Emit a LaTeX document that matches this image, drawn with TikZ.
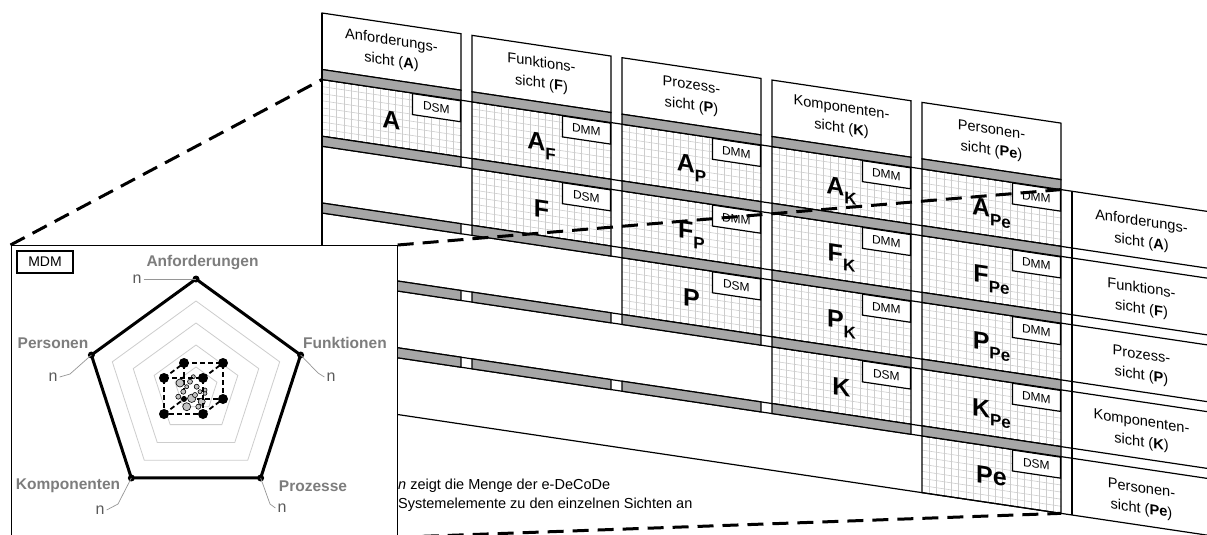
\documentclass[tikz,border=0pt]{standalone}
\usepackage{fontspec}
\setmainfont{Liberation Sans}
\definecolor{bandgray}{RGB}{166,166,166}
\definecolor{gridgray}{RGB}{205,205,205}
\definecolor{ringgray}{RGB}{205,205,205}
\definecolor{axisgray}{RGB}{125,125,125}
\definecolor{ngray}{RGB}{90,90,90}
\definecolor{leadgray}{RGB}{150,150,150}
\definecolor{molgray}{RGB}{195,195,195}
\tikzset{
  edge/.style={draw=black, line width=1.2pt},
  gridline/.style={draw=gridgray, line width=0.6pt},
  tagbox/.style={draw=black, line width=1.2pt, fill=white, minimum width=48pt, minimum height=21pt, inner sep=0pt, font=\fontsize{12}{12}\selectfont},
  biglab/.style={anchor=base, inner sep=0pt, font=\fontsize{25}{25}\selectfont\bfseries},
  viewtext/.style={align=center, inner sep=0pt, font=\fontsize{14.6}{20.5}\selectfont},
  zoomline/.style={line width=3pt, dash pattern=on 16pt off 9pt},
  axislabel/.style={inner sep=0pt, text=axisgray, font=\fontsize{15.5}{15.5}\selectfont\bfseries},
  ntext/.style={inner sep=0pt, text=ngray, font=\fontsize{16}{16}\selectfont},
  leader/.style={draw=leadgray, line width=0.7pt},
  ring/.style={draw=ringgray, line width=0.8pt},
  cubeedge/.style={line width=1.8pt, dash pattern=on 5pt off 3pt},
  atom/.style={fill=molgray, draw=black, line width=0.6pt},
}
% label with lowered index, e.g. A with index F
\newcommand\sublab[2]{#1\raisebox{-8pt}{\fontsize{17}{17}\selectfont #2}}
% one matrix cell: column, row, label, kind of matrix
\newcommand\matcell[4]{%
  \pgfmathsetmacro\cxl{322+150*#1}%
  \pgfmathsetmacro\cct{79.5+66.75*#2}%
  \foreach \k in {1,...,18} \draw[gridline] ({\cxl+\k*139/19},\cct) -- ++(0,56.75);
  \foreach \k in {1,...,7} \draw[gridline] (\cxl,{\cct+\k*56.75/8}) -- ++(139,0);
  \draw[edge] (\cxl,\cct) rectangle ++(139,56.75);
  \node[tagbox, anchor=north east] (tag#1#2) at ({\cxl+139},\cct) {#4};
  \node[biglab] (lab#1#2) at ({\cxl+69.5},{\cct+38.5}) {#3};
}
\begin{document}
\begin{tikzpicture}[x=1pt, y=-1pt]
\useasboundingbox (0,0) rectangle (1207,535);
\clip (0,0) rectangle (1207,535);
\fill[white] (0,0) rectangle (1207,535);

% ---------- oblique matrix plane ----------
\begin{scope}[cm={1,-0.149,0,1,(0pt,47.98pt)}, transform shape]
  % column headers
  \draw[edge, fill=white] (322,13) rectangle (461,69.5);
  \node[viewtext] (hA) at (391.5,41.25) {Anforderungs-\\sicht (\textbf{A})};
  \draw[edge, fill=white] (472,13) rectangle (611,69.5);
  \node[viewtext] (hF) at (541.5,41.25) {Funktions-\\sicht (\textbf{F})};
  \draw[edge, fill=white] (622,13) rectangle (761,69.5);
  \node[viewtext] (hP) at (691.5,41.25) {Prozess-\\sicht (\textbf{P})};
  \draw[edge, fill=white] (772,13) rectangle (911,69.5);
  \node[viewtext] (hK) at (841.5,41.25) {Komponenten-\\sicht (\textbf{K})};
  \draw[edge, fill=white] (922,13) rectangle (1061,69.5);
  \node[viewtext] (hPe) at (991.5,41.25) {Personen-\\sicht (\textbf{Pe})};

  % matrix cells
  \matcell{0}{0}{A}{DSM}
  \matcell{1}{0}{\sublab{A}{F}}{DMM}
  \matcell{1}{1}{F}{DSM}
  \matcell{2}{0}{\sublab{A}{P}}{DMM}
  \matcell{2}{1}{\sublab{F}{P}}{DMM}
  \matcell{2}{2}{P}{DSM}
  \matcell{3}{0}{\sublab{A}{K}}{DMM}
  \matcell{3}{1}{\sublab{F}{K}}{DMM}
  \matcell{3}{2}{\sublab{P}{K}}{DMM}
  \matcell{3}{3}{K}{DSM}
  \matcell{4}{0}{\sublab{A}{Pe}}{DMM}
  \matcell{4}{1}{\sublab{F}{Pe}}{DMM}
  \matcell{4}{2}{\sublab{P}{Pe}}{DMM}
  \matcell{4}{3}{\sublab{K}{Pe}}{DMM}
  \matcell{4}{4}{Pe}{DSM}

  % separator strips running through all columns
  \draw[edge] (322,79.5) -- (1215,79.5);
  \foreach \r in {1,...,4}{
    \pgfmathsetmacro\bt{69.5+66.75*\r}
    \draw[edge] (322,\bt) -- (1215,\bt) (322,\bt+10) -- (1215,\bt+10);
  }
  \draw[edge] (322,403.25) -- (1215,403.25);
  \foreach \r in {0,...,4}{
    \pgfmathsetmacro\bt{69.5+66.75*\r}
    \foreach \i in {0,...,4}
      \draw[edge, fill=bandgray] ({322+150*\i},\bt) rectangle ++(139,10);
  }
  \draw[edge] (322,13) -- (322,403.25);
  \draw[edge] (1072,79.5) -- (1072,403.25);

  % row labels on the right
  \node[viewtext] (rA) at (1141.5,110.4) {Anforderungs-\\sicht (\textbf{A})};
  \node[viewtext] (rF) at (1141.5,177.15) {Funktions-\\sicht (\textbf{F})};
  \node[viewtext] (rP) at (1141.5,243.9) {Prozess-\\sicht (\textbf{P})};
  \node[viewtext] (rK) at (1141.5,310.65) {Komponenten-\\sicht (\textbf{K})};
  \node[viewtext] (rPe) at (1141.5,377.4) {Personen-\\sicht (\textbf{Pe})};

  \coordinate (cellAnw) at (322,79.5);
  \coordinate (cellApeNE) at (1061,79.5);
  \coordinate (cellPeSE) at (1061,403.25);
\end{scope}

% note below the matrix
\node[anchor=north west, align=left, inner sep=0pt, font=\fontsize{14.5}{18.5}\selectfont] (note) at (398,479)
  {\textit{n} zeigt die Menge der e-DeCoDe\\Systemelemente zu den einzelnen Sichten an};

% ---------- MDM overview ----------
\node[draw=black, line width=1.2pt, fill=white, minimum width=386pt, minimum height=291pt, inner sep=0pt, anchor=north west] (mdm) at (10.5,245) {};
\draw[zoomline] (mdm.north west) -- (cellAnw);
\draw[zoomline] (mdm.north east) -- (cellApeNE);
\draw[zoomline] (mdm.south east) -- (cellPeSE);

\node[draw=black, line width=1.1pt, minimum width=56pt, minimum height=22pt, inner sep=0pt, font=\fontsize{14}{14}\selectfont] (mdmtag) at (45,262) {MDM};

\begin{scope}[shift={(196,389)}, y=1pt]
  \foreach \f in {0.2,0.4,0.6,0.8}
    \draw[ring] (90:{110*\f}) -- (18:{110*\f}) -- (-54:{110*\f}) -- (-126:{110*\f}) -- (162:{110*\f}) -- cycle;
  \coordinate (pA) at (90:110);
  \coordinate (pF) at (18:110);
  \coordinate (pP) at (-54:110);
  \coordinate (pK) at (-126:110);
  \coordinate (pPe) at (162:110);
\end{scope}
\draw[line width=3pt, line join=miter] (pA) -- (pF) -- (pP) -- (pK) -- (pPe) -- cycle;
\foreach \p in {pA,pF,pP,pK,pPe} \fill (\p) circle (3.5);

\node[axislabel] (lA) at (202.5,263) {Anforderungen};
\node[axislabel] (lF) at (345,343) {Funktionen};
\node[axislabel] (lP) at (313,486) {Prozesse};
\node[axislabel] (lK) at (68,486) {Komponenten};
\node[axislabel] (lPe) at (53,343) {Personen};

\node[ntext] (nA) at (137,279) {n};
\node[ntext] (nF) at (331,377) {n};
\node[ntext] (nP) at (282,508) {n};
\node[ntext] (nK) at (100,510) {n};
\node[ntext] (nPe) at (53,377) {n};
\draw[leader] ([xshift=2pt]nA.east) -- (pA);
\draw[leader] (pF) -- (318,373) -- ([xshift=-2pt]nF.west);
\draw[leader] (pP) -- (270,504) -- ([xshift=-2pt]nP.west);
\draw[leader] (pK) -- (118,504) -- ([xshift=2pt]nK.east);
\draw[leader] (pPe) -- (70,374) -- ([xshift=2pt]nPe.east);

% element cube with its molecule cluster
\coordinate (q1) at (164,378);
\coordinate (q2) at (203,378);
\coordinate (q3) at (203,414);
\coordinate (q4) at (164,414);
\coordinate (q5) at (184,363);
\coordinate (q6) at (223,363);
\coordinate (q7) at (223,399);
\coordinate (q8) at (184,399);
\draw[cubeedge] (q5) -- (q6) -- (q7) -- (q8) -- cycle;
\draw[cubeedge] (q1) -- (q5) (q2) -- (q6) (q3) -- (q7) (q4) -- (q8);
\fill (q8) circle (3);
\foreach \ax/\ay/\ar in {180/383/4, 191.7/398.3/4.2, 186.7/406.7/4, 201.7/401.7/3.5, 190/381.7/2.5, 196.7/386.7/2.5, 200/391.7/2, 195/395/2.5, 183.3/391.7/2.5, 205/393.3/2, 178.3/396.7/2.5, 198.3/406.7/2.5, 205/390/2, 193.3/376.7/2, 186.7/386.7/2}
  \draw[atom] (\ax,\ay) circle (\ar);
\draw[cubeedge] (q1) -- (q2) -- (q3) -- (q4) -- cycle;
\foreach \q in {q1,q2,q3,q4,q5,q6,q7} \fill (\q) circle (5);
\end{tikzpicture}
\end{document}
